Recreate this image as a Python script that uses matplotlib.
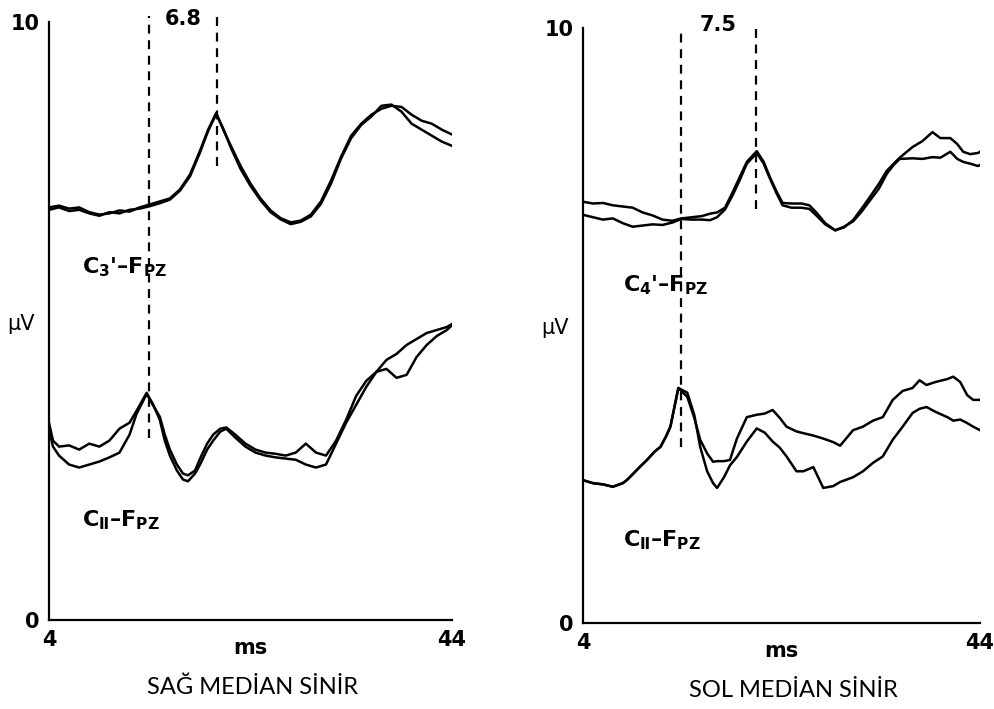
import numpy as np
import matplotlib.pyplot as plt

# -----------------------------
# Data (time in ms, amplitude in uV)
# -----------------------------
# left panel, upper pair (C3'-Fpz)
t_l_top = [4, 5, 6, 7, 8, 9, 10, 11, 12, 13, 14, 15, 16, 17, 18, 19, 19.8, 20.6, 21.3, 22,
           23, 24, 25, 26, 27, 28, 29, 30, 31, 32, 33, 34, 35, 36, 37, 38, 39, 40, 41, 42, 43, 44]
v_l_top_a = [6.9, 6.93, 6.88, 6.9, 6.82, 6.78, 6.8, 6.85, 6.83, 6.9, 6.95, 7.0, 7.05, 7.2, 7.45,
             7.85, 8.2, 8.48, 8.2, 7.95, 7.6, 7.3, 7.05, 6.85, 6.72, 6.65, 6.68, 6.78, 7.0, 7.35,
             7.75, 8.1, 8.3, 8.45, 8.55, 8.6, 8.58, 8.45, 8.35, 8.3, 8.2, 8.12]
v_l_top_b = [6.86, 6.9, 6.84, 6.86, 6.8, 6.76, 6.82, 6.8, 6.86, 6.88, 6.92, 6.97, 7.03, 7.18, 7.42,
             7.82, 8.18, 8.46, 8.22, 7.92, 7.55, 7.26, 7.02, 6.82, 6.7, 6.62, 6.66, 6.75, 6.96, 7.3,
             7.72, 8.06, 8.28, 8.42, 8.6, 8.62, 8.5, 8.3, 8.2, 8.1, 8.0, 7.93]

# left panel, lower pair (CII-Fpz)
t_l_bot = [4, 4.4, 5, 6, 7, 8, 9, 10, 11, 12, 12.7, 13.7, 14.3, 15, 15.5, 16, 16.7, 17.3, 17.8,
           18.5, 19, 19.7, 20.3, 21, 21.6, 22.5, 23.5, 24.5, 25.5, 26.5, 27.5, 28.5, 29.5, 30.5,
           31.5, 32.5, 33.5, 34.5, 35.5, 36.5, 37.5, 38.5, 39.5, 40.5, 41.5, 42.5, 43.5, 44]
v_l_bot_a = [3.3, 3.0, 2.9, 2.92, 2.85, 2.95, 2.9, 3.0, 3.2, 3.3, 3.5, 3.8, 3.6, 3.4, 3.1, 2.85,
             2.6, 2.45, 2.42, 2.5, 2.7, 2.95, 3.1, 3.2, 3.22, 3.1, 2.95, 2.85, 2.8, 2.78, 2.75,
             2.8, 2.95, 2.8, 2.75, 3.0, 3.35, 3.75, 4.0, 4.15, 4.35, 4.45, 4.6, 4.7, 4.8, 4.85,
             4.9, 4.95]
v_l_bot_b = [3.2, 2.9, 2.75, 2.6, 2.55, 2.6, 2.65, 2.72, 2.8, 3.1, 3.45, 3.78, 3.62, 3.35, 3.0,
             2.75, 2.5, 2.35, 2.32, 2.45, 2.6, 2.85, 3.0, 3.15, 3.2, 3.05, 2.9, 2.8, 2.75, 2.72,
             2.7, 2.68, 2.6, 2.55, 2.6, 2.95, 3.3, 3.6, 3.9, 4.15, 4.2, 4.05, 4.1, 4.4, 4.6, 4.75,
             4.85, 4.93]

# right panel, upper pair (C4'-Fpz)
t_r_top = [4, 5, 6, 7, 8, 9, 10, 11, 12, 13, 13.9, 15, 16, 16.8, 17.5, 18.3, 19.1, 19.8, 20.5,
           21.5, 22.2, 22.8, 23.5, 24.1, 25, 26, 26.8, 27.5, 28.4, 29.4, 30.3, 31.2, 32, 32.9,
           33.8, 34.6, 35.3, 35.9, 37.2, 38.2, 39.2, 40, 41, 41.7, 42.3, 43, 43.8, 44]
v_r_top_a = [7.08, 7.05, 7.06, 7.02, 7.0, 6.98, 6.9, 6.85, 6.78, 6.76, 6.8, 6.82, 6.84, 6.88, 6.9,
             6.98, 7.25, 7.5, 7.75, 7.93, 7.75, 7.5, 7.25, 7.06, 7.05, 7.05, 7.02, 6.9, 6.72, 6.6,
             6.65, 6.77, 6.95, 7.16, 7.38, 7.6, 7.72, 7.82, 8.0, 8.1, 8.25, 8.15, 8.15, 8.05, 7.92,
             7.88, 7.9, 7.92]
v_r_top_b = [6.86, 6.82, 6.78, 6.8, 6.72, 6.66, 6.68, 6.7, 6.69, 6.73, 6.79, 6.78, 6.78, 6.77,
             6.82, 6.95, 7.2, 7.45, 7.72, 7.9, 7.72, 7.48, 7.22, 7.02, 6.98, 6.98, 6.96, 6.85, 6.7,
             6.6, 6.66, 6.75, 6.9, 7.1, 7.3, 7.55, 7.7, 7.8, 7.81, 7.8, 7.83, 7.82, 7.92, 7.8,
             7.75, 7.72, 7.68, 7.7]

# right panel, lower pair (CII-Fpz)
t_r_bot = [4, 5, 6, 7, 8, 8.4, 9, 9.7, 10.5, 11.2, 11.8, 12.4, 12.8, 13.6, 14.5, 15.2, 15.8,
           16.5, 17.1, 17.5, 18.2, 18.8, 19.5, 20.5, 21.5, 22.3, 23.1, 23.8, 24.5, 25.5, 26.2,
           27.2, 28.2, 29.2, 29.9, 31.2, 32.2, 33.2, 34.2, 35.2, 36.2, 37.2, 37.9, 38.6, 39.5,
           40.7, 41.3, 42.0, 42.7, 43.3, 44]
v_r_bot_a = [2.4, 2.35, 2.33, 2.29, 2.35, 2.4, 2.5, 2.62, 2.75, 2.88, 2.96, 3.15, 3.3, 3.95, 3.8,
             3.45, 3.08, 2.85, 2.71, 2.72, 2.72, 2.74, 3.1, 3.46, 3.5, 3.52, 3.58, 3.45, 3.3, 3.22,
             3.19, 3.15, 3.1, 3.04, 2.98, 3.24, 3.3, 3.4, 3.46, 3.75, 3.9, 3.95, 4.08, 4.0, 4.05,
             4.1, 4.14, 4.05, 3.83, 3.75, 3.75]
v_r_bot_b = [2.4, 2.35, 2.33, 2.29, 2.35, 2.4, 2.5, 2.62, 2.75, 2.88, 2.96, 3.15, 3.3, 3.95, 3.87,
             3.5, 2.96, 2.55, 2.35, 2.27, 2.45, 2.65, 2.79, 3.05, 3.27, 3.2, 3.05, 2.95, 2.8, 2.55,
             2.55, 2.62, 2.27, 2.3, 2.37, 2.45, 2.55, 2.69, 2.8, 3.08, 3.3, 3.53, 3.6, 3.63, 3.55,
             3.46, 3.4, 3.42, 3.36, 3.3, 3.24]

# latency markers: (time, bottom, top)
marks_left = [(13.9, 3.05, 10.1), (20.7, 7.6, 10.1)]
marks_right = [(13.9, 2.95, 10.0), (21.4, 6.95, 10.0)]

panels = [
    dict(rect=[0.0492, 0.1255, 0.405, 0.8434], title='SAĞ MEDİAN SİNİR', title_x=0.506,
         traces=[(t_l_top, v_l_top_a, v_l_top_b), (t_l_bot, v_l_bot_a, v_l_bot_b)],
         marks=marks_left, diff='6.8', diff_x=17.3,
         labels=[(7.3, 5.9, r"C$_3$'–F$_{PZ}$"), (7.3, 1.67, r"C$_{Ⅱ}$–F$_{PZ}$")]),
    dict(rect=[0.586, 0.1213, 0.399, 0.8392], title='SOL MEDİAN SİNİR', title_x=0.529,
         traces=[(t_r_top, v_r_top_a, v_r_top_b), (t_r_bot, v_r_bot_a, v_r_bot_b)],
         marks=marks_right, diff='7.5', diff_x=17.6,
         labels=[(8.0, 5.68, r"C$_4$'–F$_{PZ}$"), (8.0, 1.39, r"C$_{Ⅱ}$–F$_{PZ}$")]),
]

plt.rcParams['font.family'] = ['DejaVu Sans']
plt.rcParams['mathtext.fontset'] = 'custom'
plt.rcParams['mathtext.rm'] = 'DejaVu Sans:bold'
plt.rcParams['mathtext.it'] = 'DejaVu Sans:bold'
plt.rcParams['mathtext.bf'] = 'DejaVu Sans:bold'

fig = plt.figure(figsize=(9.95, 7.09), dpi=100)

for p in panels:
    ax = fig.add_axes(p['rect'])
    for t, va, vb in p['traces']:
        ax.plot(t, va, color='black', lw=1.8)
        ax.plot(t, vb, color='black', lw=1.8)
    for x, y0, y1 in p['marks']:
        ax.plot([x, x], [y0, y1], color='black', lw=1.6, dashes=(4, 3), clip_on=False)
    ax.text(p['diff_x'], 10.05, p['diff'], ha='center', va='center', fontsize=15, fontweight='bold')
    for x, y, s in p['labels']:
        ax.text(x, y, s, ha='left', va='center', fontsize=16, fontweight='bold')

    ax.set_xlim(4, 44)
    ax.set_ylim(0, 10)
    ax.set_xticks([4, 44])
    ax.set_xticklabels(['4', '44'], fontsize=15, fontweight='bold')
    ax.set_yticks([0, 10])
    ax.set_yticklabels(['0', '10'], fontsize=15, fontweight='bold')
    ax.tick_params(length=0, pad=7)
    for s in ['top', 'right']:
        ax.spines[s].set_visible(False)
    for s in ['left', 'bottom']:
        ax.spines[s].set_linewidth(1.6)

    ax.text(24, -0.047, 'ms', transform=ax.get_xaxis_transform(), ha='center', va='center',
            fontsize=15, fontweight='bold')
    ax.text(-0.07, 0.495, 'μV', transform=ax.transAxes, ha='center', va='center',
            fontsize=15)
    ax.text(p['title_x'], -0.113, p['title'], transform=ax.transAxes, ha='center', va='center',
            fontsize=17, family=['Lato', 'DejaVu Sans'])

fig.savefig('out.png', dpi=100)
